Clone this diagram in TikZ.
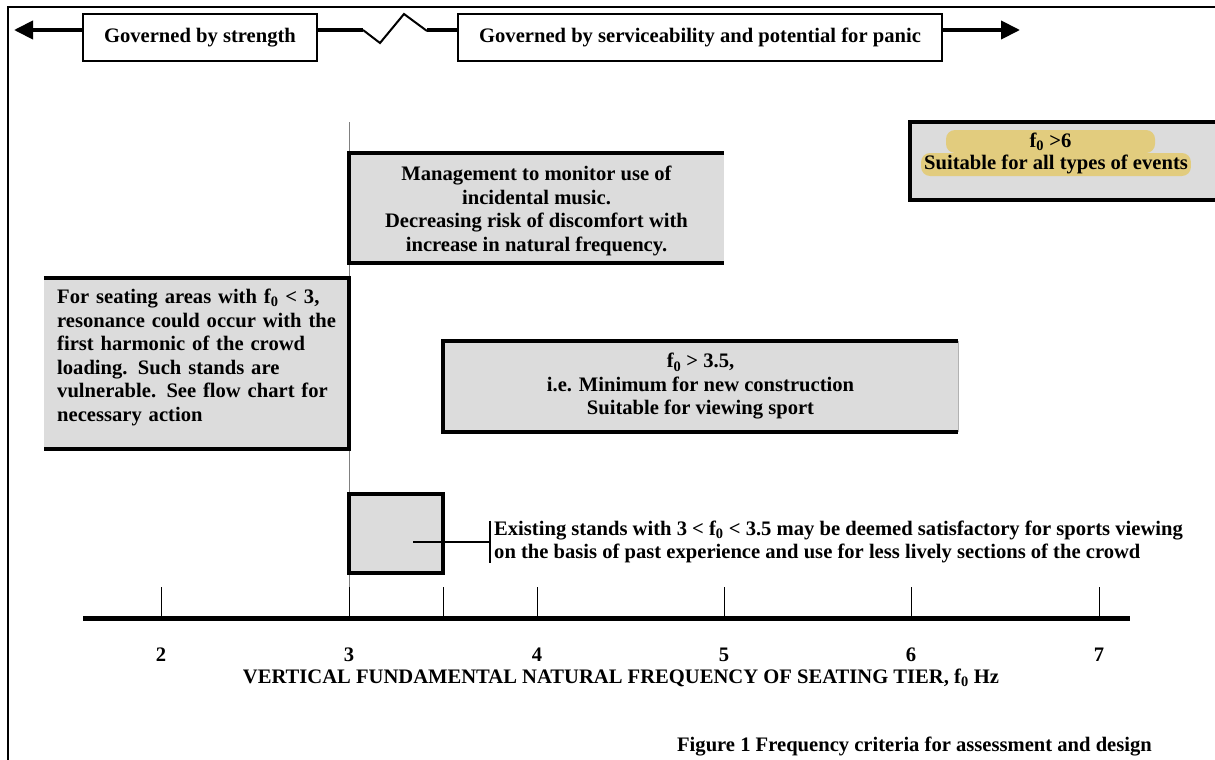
\documentclass[tikz,border=0pt]{standalone}
\usepackage{fontspec}
\setmainfont{Liberation Serif}
\usetikzlibrary{arrows.meta}

\definecolor{boxgrey}{HTML}{DCDCDC}
\definecolor{hilite}{HTML}{E2CC7E}
\newcommand{\spreadline}[1]{\makebox[\linewidth][s]{#1}}

\tikzset{
  txt/.style={font=\bfseries\fontsize{20.6}{23.5}\selectfont, inner sep=0pt},
  greybox/.style={fill=boxgrey, draw=none, inner sep=0pt},
  heavy/.style={line width=4pt, line join=miter},
  labelbox/.style={txt, draw, line width=1.2pt, minimum height=47pt},
  bigarrow/.style={line width=4pt, -{Triangle[length=19pt,width=18pt]}},
  hl/.style={txt, fill=hilite, rounded corners=9pt, minimum height=23pt}
}

\begin{document}
\begin{tikzpicture}[x=1pt,y=-1pt]
  \useasboundingbox (0,0) rectangle (1215,760);

  % frame
  \draw[line width=1.5pt] (1215,7) -- (8,7) -- (8,760);

  % top labels
  \node[labelbox, minimum width=234pt] (strength) at (200,37.5) {Governed by strength};
  \node[labelbox, minimum width=484pt] (service) at (700,37.5) {Governed by serviceability and potential for panic};

  \coordinate (leftend) at (14,30);
  \coordinate (rightend) at (1020,30);
  \coordinate (zigA) at (363,30);
  \coordinate (zigB) at (427,30);
  \draw[bigarrow] (strength.west |- leftend) -- (leftend);
  \draw[heavy] (strength.east |- zigA) -- (zigA);
  \draw[line width=2pt] (zigA) -- (380,43) -- (404,14) -- (427,31);
  \draw[heavy] (zigB) -- (service.west |- zigB);
  \draw[bigarrow] (service.east |- rightend) -- (rightend);

  % guide line at 3 Hz
  \draw[gray, line width=1pt] (349,122) -- (349,618);

  % boxes
  \node[greybox, minimum width=375pt, minimum height=110pt] (mgmt) at (536.5,208) {};
  \node[txt, align=center] (mgmttxt) at (536.5,211)
    {Management to monitor use of\\incidental music.\\Decreasing risk of discomfort with\\increase in natural frequency.};
  \draw[heavy] (mgmt.north east) -- (mgmt.north west) -- (mgmt.south west) -- (mgmt.south east);

  \node[greybox, minimum width=305pt, minimum height=171pt] (low) at (196.5,363.5) {};
  \node[txt, text width=279pt, anchor=north west] (lowtxt) at (57,289)
    {\spreadline{For seating areas with f\textsubscript{0} < 3,}\\
     \spreadline{resonance could occur with the}\\
     \spreadline{first harmonic of the crowd}\\
     \spreadline{loading. Such stands are}\\
     \spreadline{vulnerable. See flow chart for}\\
     necessary action};
  \draw[heavy] (low.north west) -- (low.north east) -- (low.south east) -- (low.south west);

  \node[greybox, txt, align=center, minimum width=515pt, minimum height=91pt] (mid) at (700.5,386.5)
    {f\textsubscript{0} > 3.5,\\i.e. Minimum for new construction\\Suitable for viewing sport};
  \draw[heavy] (mid.north east) -- (mid.north west) -- (mid.south west) -- (mid.south east);
  \draw[gray!60, line width=1pt] (mid.north east) -- (mid.south east);

  \node[greybox, minimum width=305pt, minimum height=78pt] (high) at (1062.5,161) {};
  \draw[heavy] (high.north east) -- (high.north west) -- (high.south west) -- (high.south east);
  \node[hl, minimum width=209pt] (hightop) at (1050.5,141.5) {f\textsubscript{0} >6};
  \node[hl, inner xsep=3pt] (highbot) at (1056,164.5) {Suitable for all types of events};

  \node[greybox, draw, line width=4pt, minimum width=94pt, minimum height=79pt] (band) at (396,533.5) {};
  \node[txt, align=left, anchor=west, inner xsep=4pt] (note) at (490,542)
    {Existing stands with 3 < f\textsubscript{0} < 3.5 may be deemed satisfactory for sports viewing\\
     on the basis of past experience and use for less lively sections of the crowd};
  \coordinate (bandin) at (413,542);
  \draw[line width=1.2pt] (bandin) -- (note.west);
  \draw[line width=1.2pt] (note.north west) -- (note.south west);

  % frequency axis
  \draw[line width=5pt] (83,618) -- (1130,618);
  \foreach \x/\f in {161/2, 349/3, 537/4, 724/5, 911/6, 1099/7} {
    \draw[line width=0.8pt] (\x,587) -- (\x,618);
    \node[txt] (tick\f) at (\x,655) {\f};
  }
  \draw[line width=0.8pt] (443,587) -- (443,618);

  \node[txt] (axistitle) at (621,678) {VERTICAL FUNDAMENTAL NATURAL FREQUENCY OF SEATING TIER, f\textsubscript{0} Hz};
  \node[txt] (caption) at (914.5,747) {Figure 1 Frequency criteria for assessment and design};
\end{tikzpicture}
\end{document}
